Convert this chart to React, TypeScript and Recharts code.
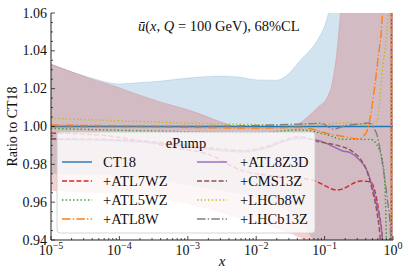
import React from 'react';
import { ComposedChart, Line, Area, XAxis, YAxis } from 'recharts';

// ---------- data ----------
const bandX = [1e-5, 4e-5, 1e-4, 1.4e-4, 4e-4, 1.3e-3, 3.3e-3, 6e-3, 1.05e-2, 2e-2, 3e-2, 4.4e-2, 6e-2, 7.9e-2, 0.11, 0.13, 0.155, 0.17, 0.3, 1];
const bandCT18Hi = [1.033, 1.0255, 1.0225, 1.0228, 1.024, 1.026, 1.0267, 1.026, 1.0246, 1.0245, 1.028, 1.035, 1.04, 1.0457, 1.058, 1.07, 1.09, 1.1, 1.15, 1.2];
const bandCT18Lo = [0.975, 0.9745, 0.974, 0.9735, 0.972, 0.968, 0.966, 0.964, 0.962, 0.958, 0.955, 0.949, 0.943, 0.935, 0.922, 0.915, 0.905, 0.9, 0.88, 0.8];
const bandUpdHi = [1.033, 1.025, 1.0205, 1.0185, 1.013, 1.0075, 1.002, 0.9995, 0.9995, 0.9995, 0.9995, 1.002, 1.006, 1.01, 1.0156, 1.0235, 1.0435, 1.06, 1.2, 1.3];
const bandUpdLo = [0.966, 0.965, 0.9645, 0.9643, 0.962, 0.958, 0.954, 0.951, 0.949, 0.946, 0.944, 0.941, 0.939, 0.935, 0.93, 0.925, 0.92, 0.915, 0.9, 0.8];

const ct18X = [1e-5, 1];
const ct18Y = [1.0, 1.0];
const atl7wzX = [1e-5, 5.2e-5, 1.44e-4, 7e-4, 2.1e-3, 5.9e-3, 2.25e-2, 6.6e-2, 0.155, 0.34, 0.47, 0.614, 0.7, 0.8, 0.945, 0.955, 1];
const atl7wzY = [0.9965, 0.9955, 0.9933, 0.9886, 0.985, 0.977, 0.9734, 0.9717, 0.9664, 0.9712, 0.9706, 0.956, 0.94, 0.85, 0.7, 1.3, 1.3];
const atl5wzX = [1e-5, 1e-4, 1e-3, 1e-2, 4.5e-2, 0.1, 0.19, 0.47, 0.614, 0.727, 0.776, 0.8, 0.85, 1];
const atl5wzY = [0.999, 0.998, 0.9972, 0.9967, 0.9982, 0.996, 0.9932, 0.9932, 0.9886, 0.9785, 0.961, 0.94, 0.9, 0.85];
const atl8wX = [1e-5, 1e-4, 1e-3, 1e-2, 4.5e-2, 0.12, 0.2, 0.31, 0.4, 0.45, 0.5, 0.6, 0.7, 0.8, 0.945, 0.955, 1];
const atl8wY = [1.0008, 1.0003, 0.9995, 0.9992, 0.9995, 0.996, 0.9945, 0.9934, 0.9964, 1.002, 1.012, 1.035, 1.06, 1.2, 1.5, 0.5, 0.5];
const atl8z3dX = [1e-5, 1e-4, 4e-4, 1.2e-3, 2.7e-3, 6.5e-3, 1.5e-2, 2.5e-2, 4.4e-2, 7.85e-2, 0.12, 0.18, 0.24, 0.31, 0.42, 0.5, 0.6, 0.7, 0.8, 1];
const atl8z3dY = [0.9932, 0.9925, 0.991, 0.989, 0.9875, 0.9866, 0.989, 0.992, 0.9937, 0.9928, 0.9902, 0.9872, 0.9861, 0.983, 0.9765, 0.968, 0.956, 0.94, 0.9, 0.85];
const cms13zX = [1e-5, 1e-4, 4e-4, 1.2e-3, 2.7e-3, 6.5e-3, 1.5e-2, 2.5e-2, 4.4e-2, 8e-2, 0.155, 0.25, 0.33, 0.42, 0.5, 0.58, 0.65, 0.8, 0.945, 0.955, 1];
const cms13zY = [0.9936, 0.993, 0.9916, 0.9896, 0.9882, 0.9873, 0.9897, 0.9927, 0.9946, 0.992, 0.99, 0.987, 0.983, 0.976, 0.966, 0.955, 0.94, 0.85, 0.7, 1.3, 1.3];
const lhcb8wX = [1e-5, 1e-4, 1e-3, 1e-2, 5e-2, 0.12, 0.2, 0.3, 0.45, 0.55, 0.59, 0.7, 0.85, 0.9, 0.945, 0.955, 1];
const lhcb8wY = [1.0043, 1.003, 1.0018, 1.001, 1.0005, 1.0015, 1.002, 1.0015, 1.001, 1.002, 1.0034, 1.03, 1.06, 1.2, 1.5, 0.5, 0.5];
const lhcb13zX = [1e-5, 1e-3, 1e-2, 4.5e-2, 8.8e-2, 0.135, 0.2, 0.33, 0.42, 0.47, 0.53, 0.59, 0.66, 0.73, 0.83, 0.92, 0.96, 1];
const lhcb13zY = [1.0, 1.0, 1.0005, 1.0013, 1.0017, 0.9986, 1.0005, 1.0013, 1.0018, 1.0015, 0.999, 0.995, 0.986, 0.976, 0.961, 0.944, 0.9, 0.85];

const xMajorTicks = [1e-5, 1e-4, 1e-3, 1e-2, 1e-1, 1];
const xMajorLabels = ['\u22125', '\u22124', '\u22123', '\u22122', '\u22121', '0'];
const yMajorTicks = [0.94, 0.96, 0.98, 1.0, 1.02, 1.04, 1.06];

const legendTitle = 'ePump';

// ---------- helpers ----------
const zip = (xs: number[], ys: number[]) => xs.map((x, i) => ({ x, y: ys[i] }));
const bandData = bandX.map((x, i) => ({
  x,
  ctLo: bandCT18Lo[i],
  ctW: bandCT18Hi[i] - bandCT18Lo[i],
  upLo: bandUpdLo[i],
  upW: bandUpdHi[i] - bandUpdLo[i],
}));

const xMinorTicks: number[] = [];
xMajorTicks.slice(0, -1).forEach((m) => {
  for (let k = 2; k <= 9; k++) xMinorTicks.push(m * k);
});
const xTicks = [...xMajorTicks, ...xMinorTicks].sort((a, b) => a - b);
const yMinorTicks: number[] = [];
yMajorTicks.slice(0, -1).forEach((m) => {
  [0.005, 0.01, 0.015].forEach((d) => yMinorTicks.push(+(m + d).toFixed(3)));
});
const yTicks = [...yMajorTicks, ...yMinorTicks].sort((a, b) => a - b);

const isXMajor = (v: number) => Math.abs(Math.log10(v) - Math.round(Math.log10(v))) < 1e-6;
const isYMajor = (v: number) => Math.abs(v * 50 - Math.round(v * 50)) < 1e-6;

const FONT = 'Liberation Serif';
const AX = '#222';

const series = [
  { name: 'CT18', data: zip(ct18X, ct18Y), color: '#1f77b4', dash: undefined },
  { name: '+ATL7WZ', data: zip(atl7wzX, atl7wzY), color: '#d62728', dash: '5 2.2' },
  { name: '+ATL5WZ', data: zip(atl5wzX, atl5wzY), color: '#2ca02c', dash: '1.4 2.3' },
  { name: '+ATL8W', data: zip(atl8wX, atl8wY), color: '#ff7f0e', dash: '8.5 2.2 1.4 2.2' },
  { name: '+ATL8Z3D', data: zip(atl8z3dX, atl8z3dY), color: '#9467bd', dash: undefined },
  { name: '+CMS13Z', data: zip(cms13zX, cms13zY), color: '#8c564b', dash: '5 2.2' },
  { name: '+LHCb8W', data: zip(lhcb8wX, lhcb8wY), color: '#bcbd22', dash: '1.4 2.3' },
  { name: '+LHCb13Z', data: zip(lhcb13zX, lhcb13zY), color: '#7f7f7f', dash: '8.5 2.2 1.4 2.2' },
];

const XTickBottom = (props: any) => {
  const { x, y, payload } = props;
  const v = payload.value;
  const major = isXMajor(v);
  const idx = xMajorTicks.findIndex((t) => Math.abs(Math.log10(t) - Math.log10(v)) < 1e-6);
  return (
    <g>
      <line x1={x} x2={x} y1={y} y2={y - (major ? 4 : 2)} stroke={AX} strokeWidth={0.8} />
      {major && (
        <text x={x} y={y + 15} textAnchor="middle" fontFamily={FONT} fontSize={14} fill="#111">
          10<tspan dy={-6} fontSize={10}>{xMajorLabels[idx]}</tspan>
        </text>
      )}
    </g>
  );
};
const XTickTop = (props: any) => {
  const { x, y, payload } = props;
  const major = isXMajor(payload.value);
  return <line x1={x} x2={x} y1={y} y2={y + (major ? 4 : 2)} stroke={AX} strokeWidth={0.8} />;
};
const YTickLeft = (props: any) => {
  const { x, y, payload } = props;
  const v = payload.value;
  const major = isYMajor(v);
  return (
    <g>
      <line x1={x} x2={x + (major ? 4 : 2)} y1={y} y2={y} stroke={AX} strokeWidth={0.8} />
      {major && (
        <text x={x - 4} y={y + 4.5} textAnchor="end" fontFamily={FONT} fontSize={14} fill="#111">
          {v.toFixed(2)}
        </text>
      )}
    </g>
  );
};
const YTickRight = (props: any) => {
  const { x, y, payload } = props;
  const major = isYMajor(payload.value);
  return <line x1={x} x2={x - (major ? 4 : 2)} y1={y} y2={y} stroke={AX} strokeWidth={0.8} />;
};

const LegendOverlay = () => {
  const rows = [162, 181, 200, 219];
  const cols = [{ hx: 62, tx: 103 }, { hx: 197, tx: 240 }];
  return (
    <svg width={407} height={271} style={{ position: 'absolute', left: 0, top: 0, pointerEvents: 'none' }}>
      <rect x={57} y={132} width={258} height={101} rx={3} fill="#ffffff" fillOpacity={0.8} stroke="#cccccc" strokeWidth={0.8} />
      <text x={186} y={148} textAnchor="middle" fontFamily={FONT} fontSize={14.5} fill="#111">{legendTitle}</text>
      {series.map((s, i) => {
        const col = cols[Math.floor(i / 4)];
        const ry = rows[i % 4];
        return (
          <g key={s.name}>
            <line x1={col.hx} x2={col.hx + 30} y1={ry} y2={ry} stroke={s.color} strokeWidth={1.4} strokeDasharray={s.dash} />
            <text x={col.tx} y={ry + 5} fontFamily={FONT} fontSize={14.5} fill="#111">{s.name}</text>
          </g>
        );
      })}
    </svg>
  );
};

export default function App() {
  return (
    <div style={{ position: 'absolute', left: 0, top: 0, width: 407, height: 271, background: '#fff' }}>
      <ComposedChart width={407} height={271} data={bandData} margin={{ top: 13, right: 14, bottom: 0, left: 0 }}>
        <XAxis dataKey="x" type="number" scale="log" domain={[1e-5, 1]} allowDataOverflow ticks={xTicks} interval={0} tickSize={0} tickMargin={0} height={31} axisLine={{ stroke: AX, strokeWidth: 1 }} tickLine={false} tick={<XTickBottom />} />
        <XAxis xAxisId="top" orientation="top" dataKey="x" type="number" scale="log" domain={[1e-5, 1]} allowDataOverflow ticks={xTicks} interval={0} tickSize={0} tickMargin={0} height={0} axisLine={{ stroke: AX, strokeWidth: 1 }} tickLine={false} tick={<XTickTop />} />
        <YAxis type="number" domain={[0.94, 1.06]} allowDataOverflow ticks={yTicks} interval={0} tickSize={0} tickMargin={0} width={51} axisLine={{ stroke: AX, strokeWidth: 1 }} tickLine={false} tick={<YTickLeft />} />
        <YAxis yAxisId="right" orientation="right" type="number" domain={[0.94, 1.06]} allowDataOverflow ticks={yTicks} interval={0} tickSize={0} tickMargin={0} width={0} axisLine={{ stroke: AX, strokeWidth: 1 }} tickLine={false} tick={<YTickRight />} />
        <Area dataKey="ctLo" stackId="ct" type="monotone" fill="none" stroke="none" isAnimationActive={false} />
        <Area dataKey="ctW" stackId="ct" type="monotone" fill="#1f77b4" fillOpacity={0.2} stroke="#1f77b4" strokeOpacity={0.15} strokeWidth={1} isAnimationActive={false} />
        <Area dataKey="upLo" stackId="up" type="monotone" fill="none" stroke="none" isAnimationActive={false} />
        <Area dataKey="upW" stackId="up" type="monotone" fill="#d62728" fillOpacity={0.22} stroke="#d62728" strokeOpacity={0.15} strokeWidth={1} isAnimationActive={false} />
        {series.map((s) => (
          <Line key={s.name} data={s.data} dataKey="y" type="monotone" stroke={s.color} strokeWidth={1.4} strokeDasharray={s.dash} dot={false} activeDot={false} isAnimationActive={false} />
        ))}
      </ComposedChart>
      <svg width={407} height={271} style={{ position: 'absolute', left: 0, top: 0, pointerEvents: 'none' }}>
        <text x={138} y={31} fontFamily={FONT} fontSize={14.5} fill="#111">
          <tspan fontStyle="italic">ū</tspan>(<tspan fontStyle="italic">x</tspan>, <tspan fontStyle="italic">Q</tspan> = 100 GeV),  68%CL
        </text>
        <text x={14} y={126.5} transform="rotate(-90 14 126.5)" textAnchor="middle" dominantBaseline="middle" fontFamily={FONT} fontSize={14} fill="#111">
          Ratio to CT18
        </text>
        <text x={222} y={266} textAnchor="middle" fontFamily={FONT} fontStyle="italic" fontSize={15} fill="#111">x</text>
      </svg>
      <LegendOverlay />
    </div>
  );
}
